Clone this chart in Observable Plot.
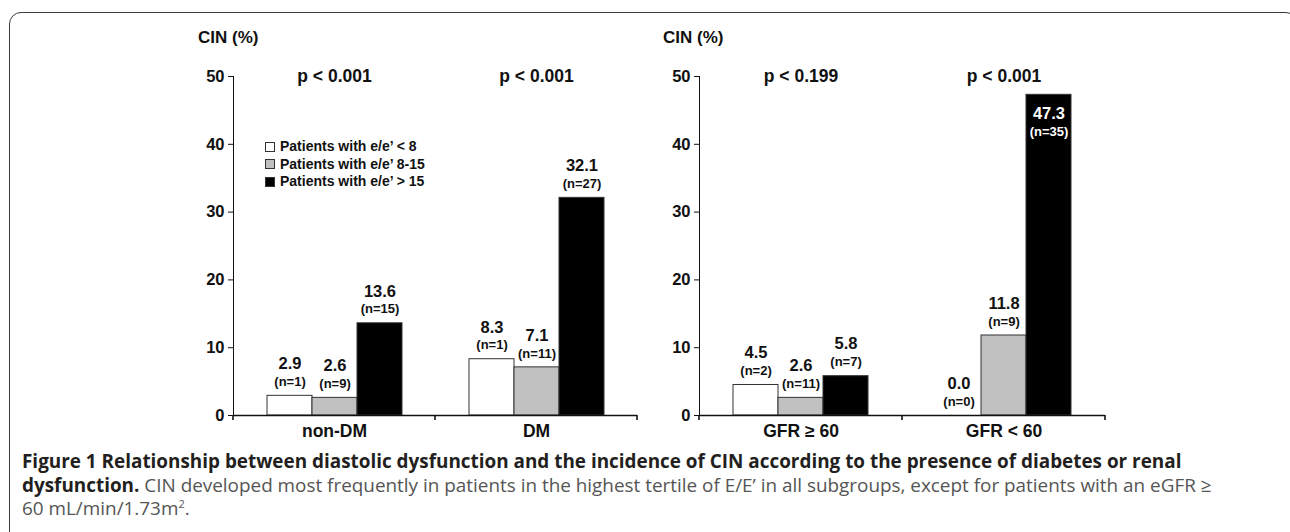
<!DOCTYPE html>
<html>
<head>
<meta charset="utf-8">
<script src="https://cdn.jsdelivr.net/npm/d3@7"></script>
<script src="https://cdn.jsdelivr.net/npm/@observablehq/plot@0.6"></script>
<style>
  html, body { margin: 0; padding: 0; background: #fff; }
  body { width: 1290px; height: 532px; overflow: hidden; position: relative; font-family: "Liberation Sans", Arial, sans-serif; }
  #frame { position: absolute; left: 9px; top: 12px; width: 1289px; height: 600px; border: 1.6px solid #3a3a3a; border-radius: 12px; box-sizing: border-box; }
  .panel { position: absolute; }
  .ylab { position: absolute; font-size: 17px; font-weight: bold; color: #111; white-space: nowrap; line-height: 20px; }
  #legend { position: absolute; left: 265px; top: 138px; font-size: 14px; font-weight: bold; color: #111; line-height: 17.5px; }
  #legend .item { display: flex; align-items: center; white-space: nowrap; }
  #legend .sw { width: 10px; height: 10px; box-sizing: border-box; border: 1px solid #333; margin-right: 5px; }
  #caption { position: absolute; left: 22px; top: 450px; font-family: "Open Sans", sans-serif; font-size: 18.9px; line-height: 23.5px; color: #555; white-space: nowrap; }
  #caption b { color: #231f20; font-weight: bold; }
  #caption sup { font-size: 11px; line-height: 0; }
</style>
</head>
<body>
<div id="frame"></div>
<div id="p1" class="panel" style="left:150px; top:20px;"></div>
<div id="p2" class="panel" style="left:640px; top:20px;"></div>
<div class="ylab" style="left:198px; top:28px;">CIN (%)</div>
<div class="ylab" style="left:663px; top:28px;">CIN (%)</div>
<div id="legend"></div>
<div id="caption"><b>Figure 1 Relationship between diastolic dysfunction and the incidence of CIN according to the presence of diabetes or renal</b><br><b>dysfunction.</b> CIN developed most frequently in patients in the highest tertile of E/E’ in all subgroups, except for patients with an eGFR ≥<br>60 mL/min/1.73m<sup>2</sup>.</div>
<script>
// ---- data ----
const tertiles = ["Patients with e/e’ < 8", "Patients with e/e’ 8-15", "Patients with e/e’ > 15"];
const fills = ["#ffffff", "#c0c0c0", "#000000"];
const yTicks = [0, 10, 20, 30, 40, 50];

const groupsDM = ["non-DM", "DM"];
const valuesDM = [[2.9, 2.6, 13.6], [8.3, 7.1, 32.1]];
const countsDM = [[1, 9, 15], [1, 11, 27]];
const pDM = ["p < 0.001", "p < 0.001"];

const groupsGFR = ["GFR ≥ 60", "GFR < 60"];
const valuesGFR = [[4.5, 2.6, 5.8], [0.0, 11.8, 47.3]];
const countsGFR = [[2, 11, 7], [0, 9, 35]];
const pGFR = ["p < 0.199", "p < 0.001"];

// ---- legend ----
const legend = d3.select("#legend");
tertiles.forEach((t, i) => {
  const it = legend.append("div").attr("class", "item");
  it.append("div").attr("class", "sw").style("background", fills[i]);
  it.append("span").text(t);
});

function panel(sel, groups, values, counts, pvals, dims) {
  const rows = groups.flatMap((g, i) => tertiles.map((t, j) => ({group: g, tertile: t, value: values[i][j], n: counts[i][j]})));
  const prow = groups.map((g, i) => ({group: g, p: pvals[i]}));
  const yMax = yTicks[yTicks.length - 1];
  const inside = d => d.value > 45;
  const above = d => !inside(d);
  const chart = Plot.plot({
    width: dims.width, height: dims.height,
    marginLeft: dims.marginLeft, marginRight: dims.marginRight,
    marginTop: 56, marginBottom: 30,
    style: {fontFamily: "'Liberation Sans', Arial, sans-serif", fontSize: "16px", fontWeight: "bold", color: "#111", background: "transparent", overflow: "visible"},
    fx: {domain: groups, padding: 0, label: null, axis: "bottom", tickSize: 0, tickPadding: 9},
    x: {domain: tertiles, axis: null, paddingInner: 0, paddingOuter: 0.72},
    y: {domain: [0, yMax], ticks: yTicks, tickSize: 5, tickPadding: 4, label: null, line: true},
    color: {domain: tertiles, range: fills},
    marks: [
      Plot.barY(rows, {fx: "group", x: "tertile", y: "value", fill: "tertile", stroke: "#333", strokeWidth: 1}),
      Plot.ruleY([0], {stroke: "#111", strokeWidth: 1.6}),
      Plot.text(rows.filter(above), {fx: "group", x: "tertile", y: "value", text: d => d.value.toFixed(1), dy: -32, fontSize: 16.5}),
      Plot.text(rows.filter(above), {fx: "group", x: "tertile", y: "value", text: d => `(n=${d.n})`, dy: -14, fontSize: 13}),
      Plot.text(rows.filter(inside), {fx: "group", x: "tertile", y: "value", text: d => d.value.toFixed(1), dy: 19, fontSize: 16.5, fill: "#fff"}),
      Plot.text(rows.filter(inside), {fx: "group", x: "tertile", y: "value", text: d => `(n=${d.n})`, dy: 37, fontSize: 13, fill: "#fff"}),
      Plot.text(prow, {fx: "group", y: yMax, text: "p", fontSize: 17.5})
    ]
  });
  // boundary ticks below the baseline at facet edges
  const svg = d3.select(chart.tagName === "svg" ? chart : chart.querySelector("svg"));
  const fx = chart.scale("fx");
  const starts = groups.map(g => fx.apply(g));
  const bw = fx.bandwidth != null ? fx.bandwidth : (starts[1] - starts[0]);
  const edges = [...starts, starts[starts.length - 1] + bw];
  const y0 = chart.scale("y").apply(0);
  svg.append("g").attr("stroke", "#111").attr("stroke-width", 1.6)
    .selectAll("line").data(edges).join("line")
    .attr("x1", d => d).attr("x2", d => d).attr("y1", y0).attr("y2", y0 + 5);
  svg.selectAll("g[aria-label='fx-axis tick label'] text").attr("font-size", 17.5);
  svg.selectAll("g[aria-label='y-axis tick label'] text").attr("font-size", 16.5);
  document.querySelector(sel).appendChild(chart);
}

panel("#p1", groupsDM, valuesDM, countsDM, pDM, {width: 500, height: 425, marginLeft: 83, marginRight: 13});
panel("#p2", groupsGFR, valuesGFR, countsGFR, pGFR, {width: 480, height: 425, marginLeft: 59, marginRight: 15});
</script>
</body>
</html>
